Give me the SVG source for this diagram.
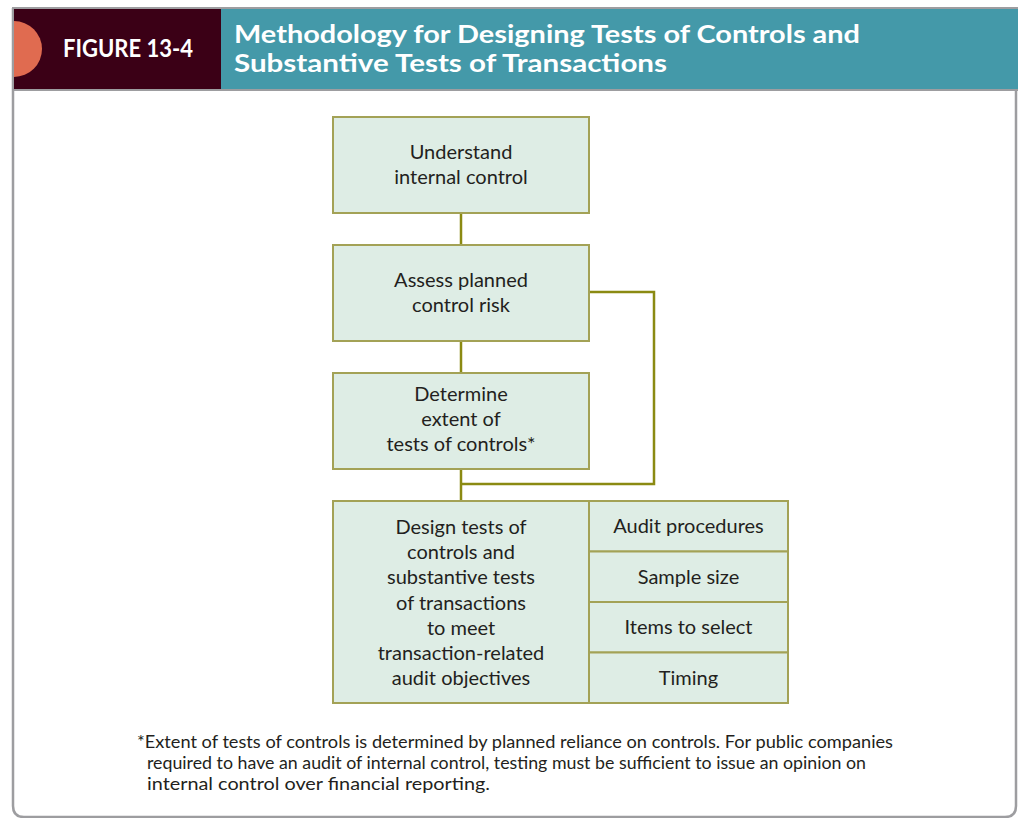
<svg xmlns="http://www.w3.org/2000/svg" width="1018" height="818" viewBox="0 0 1018 818">
  <style>
    .box { fill: #deede5; stroke: #a3a256; stroke-width: 2; }
    .conn { fill: none; stroke: #8b8a12; stroke-width: 2.5; }
    .t { font-family: Lato, "Open Sans", sans-serif; font-size: 20px; fill: #231f20; text-anchor: middle; }
    .foot { font-family: Lato, "Open Sans", sans-serif; font-size: 16.5px; fill: #231f20; }
    .title { font-family: Lato, "Open Sans", sans-serif; font-weight: bold; font-size: 25px; fill: #ffffff; }
  </style>
  <rect width="1018" height="818" fill="#ffffff"/>
  <g id="frame">
    <path d="M13,8 L13,806 Q13,817 24,817 L1005,817 Q1016,817 1016,806 L1016,90" fill="none" stroke="#9d9da0" stroke-width="2.5"/>
    <line x1="12" y1="8" x2="1018" y2="8" stroke="#9d9da0" stroke-width="2"/>
  </g>
  <g id="header">
    <rect x="14" y="9" width="207" height="81" fill="#3b0016"/>
    <rect x="221" y="9" width="797" height="81" fill="#4499a9"/>
    <line x1="14" y1="90" x2="1018" y2="90" stroke="#9d9da0" stroke-width="2"/>
    <path d="M14,21 A28,28 0 0 1 14,77 Z" fill="#e06b50"/>
    <text x="63" y="57" class="title" textLength="130" lengthAdjust="spacingAndGlyphs" font-size="24">FIGURE 13-4</text>
    <text x="234" y="43" class="title" textLength="626" lengthAdjust="spacingAndGlyphs">Methodology for Designing Tests of Controls and</text>
    <text x="234" y="72" class="title" textLength="433" lengthAdjust="spacingAndGlyphs">Substantive Tests of Transactions</text>
  </g>
  <g id="connectors">
    <line class="conn" x1="461" y1="213" x2="461" y2="245"/>
    <line class="conn" x1="461" y1="341" x2="461" y2="373"/>
    <polyline class="conn" points="589,292 654,292 654,484 461,484"/>
    <line class="conn" x1="461" y1="469" x2="461" y2="501"/>
  </g>
  <g id="n1">
    <rect class="box" x="333" y="117" width="256" height="96"/>
    <text class="t" x="461" y="159">Understand</text>
    <text class="t" x="461" y="184">internal control</text>
  </g>
  <g id="n2">
    <rect class="box" x="333" y="245" width="256" height="96"/>
    <text class="t" x="461" y="287">Assess planned</text>
    <text class="t" x="461" y="312">control risk</text>
  </g>
  <g id="n3">
    <rect class="box" x="333" y="373" width="256" height="96"/>
    <text class="t" x="461" y="401">Determine</text>
    <text class="t" x="461" y="426">extent of</text>
    <text class="t" x="461" y="451">tests of controls*</text>
  </g>
  <g id="n4">
    <rect class="box" x="333" y="501" width="256" height="202"/>
    <text class="t" x="461" y="534">Design tests of</text>
    <text class="t" x="461" y="559.2">controls and</text>
    <text class="t" x="461" y="584.4">substantive tests</text>
    <text class="t" x="461" y="609.6">of transactions</text>
    <text class="t" x="461" y="634.8">to meet</text>
    <text class="t" x="461" y="660">transaction-related</text>
    <text class="t" x="461" y="685.2">audit objectives</text>
  </g>
  <g id="n5">
    <rect class="box" x="589" y="501" width="199" height="50.5"/>
    <text class="t" x="688.5" y="533">Audit procedures</text>
  </g>
  <g id="n6">
    <rect class="box" x="589" y="551.5" width="199" height="50.5"/>
    <text class="t" x="688.5" y="583.5">Sample size</text>
  </g>
  <g id="n7">
    <rect class="box" x="589" y="602" width="199" height="50.5"/>
    <text class="t" x="688.5" y="634">Items to select</text>
  </g>
  <g id="n8">
    <rect class="box" x="589" y="652.5" width="199" height="50.5"/>
    <text class="t" x="688.5" y="684.5">Timing</text>
  </g>
  <g id="footnote">
    <text class="foot" x="137" y="748" textLength="756" lengthAdjust="spacingAndGlyphs">*Extent of tests of controls is determined by planned reliance on controls. For public companies</text>
    <text class="foot" x="147" y="769" textLength="719" lengthAdjust="spacingAndGlyphs">required to have an audit of internal control, testing must be sufficient to issue an opinion on</text>
    <text class="foot" x="147" y="790" textLength="343" lengthAdjust="spacingAndGlyphs">internal control over financial reporting.</text>
  </g>
</svg>
